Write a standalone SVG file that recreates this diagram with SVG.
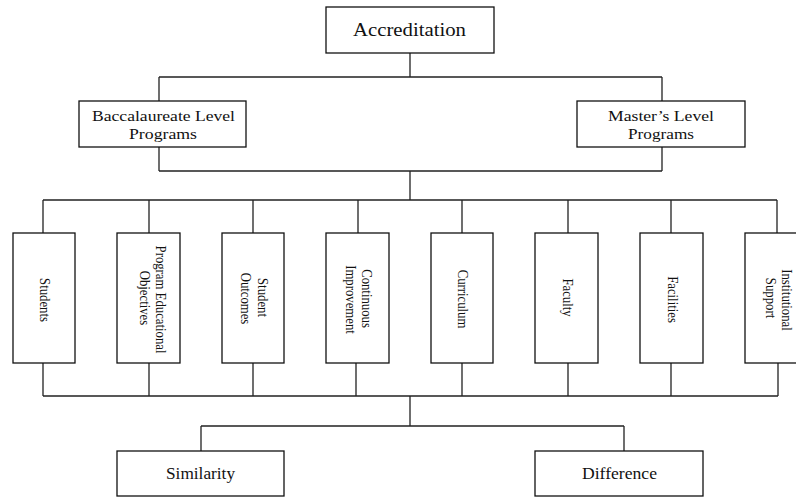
<svg xmlns="http://www.w3.org/2000/svg" width="796" height="497" viewBox="0 0 796 497">
<style>
.box{fill:#fff;stroke:#111;stroke-width:1.3}
.ln{fill:none;stroke:#222;stroke-width:1.3}
text{font-family:'Liberation Serif','Times New Roman','DejaVu Serif',serif;fill:#111;text-anchor:middle}
.h{font-size:15.5px}
.v{font-size:15px}
</style>
<rect width="796" height="497" fill="#fff"/>
<g id="connectors" class="ln">
<path d="M410,53V77M159,77H662M159,77V101M662,77V101"/>
<path d="M159,147V171M662,147V171M159,171H662M410,171V200"/>
<path d="M43,200H777M43,200V233M149,200V233M253,200V233M358,200V233M462,200V233M568,200V233M671,200V233M777,200V233"/>
<path d="M43,363V396M149,363V396M253,363V396M356,363V396M462,363V396M568,363V396M671,363V396M778,363V396M43,396H778"/>
<path d="M410,396V426M201,426H624M201,426V451M624,426V451"/>
</g>
<g id="accreditation">
<rect class="box" x="326" y="7" width="168" height="46"/>
<text x="409.5" y="36" style="font-size:19px" textLength="113" lengthAdjust="spacingAndGlyphs">Accreditation</text>
</g>
<g id="baccalaureate">
<rect class="box" x="79" y="101" width="167" height="46"/>
<text class="h" x="163.5" y="120.5" textLength="143" lengthAdjust="spacingAndGlyphs">Baccalaureate Level</text>
<text class="h" x="163" y="138.5" textLength="68" lengthAdjust="spacingAndGlyphs">Programs</text>
</g>
<g id="masters">
<rect class="box" x="577" y="101" width="168" height="46"/>
<text class="h" x="661" y="120.5" textLength="106" lengthAdjust="spacingAndGlyphs">Master’s Level</text>
<text class="h" x="661" y="138.5" textLength="66" lengthAdjust="spacingAndGlyphs">Programs</text>
</g>
<g id="students">
<rect class="box" x="13" y="233" width="62" height="130"/>
<text class="v" transform="translate(40,300) rotate(90) scale(0.85,1)">Students</text>
</g>
<g id="peo">
<rect class="box" x="117" y="233" width="63" height="130"/>
<text class="v" transform="translate(156,299.5) rotate(90) scale(0.85,1)">Program Educational</text>
<text class="v" transform="translate(140,298) rotate(90) scale(0.85,1)">Objectives</text>
</g>
<g id="student-outcomes">
<rect class="box" x="222" y="233" width="62" height="130"/>
<text class="v" transform="translate(258,297.5) rotate(90) scale(0.85,1)">Student</text>
<text class="v" transform="translate(241,298.5) rotate(90) scale(0.85,1)">Outcomes</text>
</g>
<g id="continuous-improvement">
<rect class="box" x="326" y="233" width="63" height="130"/>
<text class="v" transform="translate(362,298.5) rotate(90) scale(0.85,1)">Continuous</text>
<text class="v" transform="translate(346,299.5) rotate(90) scale(0.85,1)">Improvement</text>
</g>
<g id="curriculum">
<rect class="box" x="431" y="233" width="62" height="130"/>
<text class="v" transform="translate(458,299) rotate(90) scale(0.85,1)">Curriculum</text>
</g>
<g id="faculty">
<rect class="box" x="535" y="233" width="63" height="130"/>
<text class="v" transform="translate(563,297.5) rotate(90) scale(0.85,1)">Faculty</text>
</g>
<g id="facilities">
<rect class="box" x="640" y="233" width="63" height="130"/>
<text class="v" transform="translate(668,299.5) rotate(90) scale(0.85,1)">Facilities</text>
</g>
<g id="institutional-support">
<rect class="box" x="745" y="233" width="70" height="130"/>
<text class="v" transform="translate(782,300) rotate(90) scale(0.85,1)">Institutional</text>
<text class="v" transform="translate(766,298) rotate(90) scale(0.85,1)">Support</text>
</g>
<g id="similarity">
<rect class="box" x="117" y="451" width="167" height="45"/>
<text class="h" x="200.5" y="479" style="font-size:17px" textLength="69" lengthAdjust="spacingAndGlyphs">Similarity</text>
</g>
<g id="difference">
<rect class="box" x="535" y="451" width="168" height="45"/>
<text class="h" x="619.5" y="479" style="font-size:17px" textLength="75" lengthAdjust="spacingAndGlyphs">Difference</text>
</g>
</svg>
